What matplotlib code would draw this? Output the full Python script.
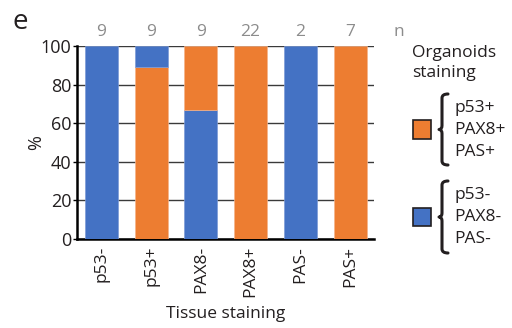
import matplotlib
matplotlib.use("Agg")
import matplotlib.pyplot as plt
from matplotlib.path import Path
from matplotlib.patches import PathPatch, Rectangle
import numpy as np

plt.rcParams['font.family'] = ['Open Sans', 'DejaVu Sans']

categories = ["p53-", "p53+", "PAX8-", "PAX8+", "PAS-", "PAS+"]
n_counts = [9, 9, 9, 22, 2, 7]
negative_pct = [100, 11.1, 66.7, 0, 100, 0]     # p53- / PAX8- / PAS- organoids
positive_pct = [0, 88.9, 33.3, 100, 0, 100]     # p53+ / PAX8+ / PAS+ organoids
negative_on_bottom = [True, False, True, False, True, False]
pos_labels = ["p53+", "PAX8+", "PAS+"]
neg_labels = ["p53-", "PAX8-", "PAS-"]

BLUE = "#4472C4"
ORANGE = "#ED7D31"
TEXT = "#231f20"
W, H = 512, 328

fig = plt.figure(figsize=(W / 100, H / 100), dpi=100)
ax = fig.add_axes([77 / W, (H - 239) / H, (374 - 77) / W, (239 - 46) / H])

x = np.arange(len(categories))
for i in range(len(categories)):
    if negative_on_bottom[i]:
        first, second = (negative_pct[i], BLUE, "#7d9bd6"), (positive_pct[i], ORANGE, "#f5b48a")
    else:
        first, second = (positive_pct[i], ORANGE, "#f5b48a"), (negative_pct[i], BLUE, "#7d9bd6")
    if first[0] > 0:
        ax.bar(x[i], first[0], width=0.66, color=first[1], edgecolor=first[2],
               linewidth=0.5, zorder=3)
    if second[0] > 0:
        ax.bar(x[i], second[0], bottom=first[0], width=0.66, color=second[1],
               edgecolor=second[2], linewidth=0.5, zorder=3)

ax.set_xlim(-0.49, 5.48)
ax.set_ylim(0, 100)
ax.set_yticks([0, 20, 40, 60, 80, 100])
ax.yaxis.grid(True, color="#3a3a3a", linewidth=1.0, zorder=0)
ax.set_axisbelow(True)
for s in ["top", "right"]:
    ax.spines[s].set_visible(False)
for s in ["left", "bottom"]:
    ax.spines[s].set_linewidth(1.8)
    ax.spines[s].set_color("black")
ax.tick_params(axis="y", length=3, width=1, labelsize=13, pad=1, colors="black",
               labelcolor=TEXT)
ax.set_xticks(x)
ax.set_xticklabels(categories, rotation=90, fontsize=12.5, color=TEXT)
ax.tick_params(axis="x", length=0, pad=5)
ax.set_ylabel("%", fontsize=13, rotation=90, color=TEXT, labelpad=-3)
ax.set_xlabel("Tissue staining", fontsize=12.5, color=TEXT, labelpad=6)

# sample sizes above each bar
for xi, n in zip(x, n_counts):
    ax.text(xi, 107, str(n), ha="center", va="center", fontsize=12.5, color="#8c8c8c", clip_on=False)
ax.text(5.98, 107, "n", ha="center", va="center", fontsize=12.5, color="#8c8c8c", clip_on=False)

fig.text(20 / W, 1 - 22 / H, "e", fontsize=20, ha="center", va="center", color=TEXT)


def px(xp, yp):
    return xp / W, 1 - yp / H


fig.text(*px(412, 63), "Organoids\nstaining", fontsize=12.5, ha="left", va="center",
         color=TEXT, linespacing=1.4)


def brace(x0, y_top, y_bot, depth=6):
    ym = (y_top + y_bot) / 2
    verts = [(x0 + depth, y_top), (x0, y_top), (x0, y_top + 4),
             (x0, ym - 4), (x0, ym), (x0 - depth / 2, ym),
             (x0, ym), (x0, ym + 4),
             (x0, y_bot - 4), (x0, y_bot), (x0 + depth, y_bot)]
    codes = [Path.MOVETO, Path.CURVE3, Path.CURVE3,
             Path.LINETO, Path.CURVE3, Path.CURVE3,
             Path.CURVE3, Path.CURVE3,
             Path.LINETO, Path.CURVE3, Path.CURVE3]
    pts = [px(a, b) for a, b in verts]
    fig.add_artist(PathPatch(Path(pts, codes), transform=fig.transFigure,
                             facecolor="none", edgecolor=TEXT, linewidth=2.2,
                             capstyle="round", joinstyle="round"))


def legend_entry(color, labels, y_top, y_bot):
    ym = (y_top + y_bot) / 2
    fig.add_artist(Rectangle(px(413, ym + 9), 18 / W, 18 / H, transform=fig.transFigure,
                             facecolor=color, edgecolor=TEXT, linewidth=1.2))
    brace(442, y_top, y_bot)
    for k, lab in enumerate(labels):
        fig.text(*px(454, ym - 22 + 22 * k), lab, fontsize=12.5, ha="left", va="center", color=TEXT)


legend_entry(ORANGE, pos_labels, 94, 165)
legend_entry(BLUE, neg_labels, 181, 253)

fig.savefig("out.png", dpi=100)
